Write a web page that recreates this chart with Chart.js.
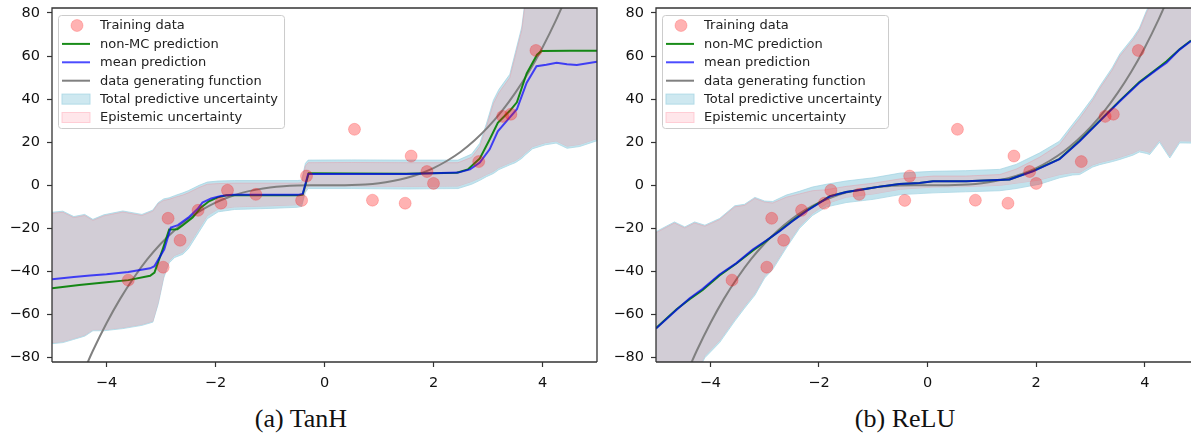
<!DOCTYPE html>
<html>
<head>
<meta charset="utf-8">
<script src="https://cdn.jsdelivr.net/npm/chart.js@4.4.1/dist/chart.umd.min.js"></script>
<style>
  body { margin: 0; background: #fff; width: 1191px; height: 433px; overflow: hidden; position: relative; }
  .plot { position: absolute; top: 0; height: 395px; }
  #plotA { left: 0; width: 610px; }
  #plotB { left: 600px; width: 591px; }
  .cap { position: absolute; top: 406px; line-height: 26px; font-family: "Liberation Serif", serif; font-size: 26px; color: #111; transform: translateX(-50%); white-space: nowrap; }
</style>
</head>
<body>
<div class="plot" id="plotA"><canvas id="chartA"></canvas></div>
<div class="plot" id="plotB"><canvas id="chartB"></canvas></div>
<div class="cap" style="left:301px">(a) TanH</div>
<div class="cap" style="left:905px">(b) ReLU</div>
<script>
// ticks
const xTicks = [-4, -2, 0, 2, 4];
const yTicks = [-80, -60, -40, -20, 0, 20, 40, 60, 80];

const legendLabels = ['Training data', 'non-MC prediction', 'mean prediction', 'data generating function',
  'Total predictive uncertainty', 'Epistemic uncertainty'];

// training data (same in both panels)
const trainX = [-3.60, -2.96, -2.87, -2.65, -2.32, -1.90, -1.78, -1.26, -0.42, -0.33, 0.55, 0.88, 1.48, 1.59, 1.88, 2.00, 2.83, 3.27, 3.42, 3.88];
const trainY = [-44, -38, -15.3, -25.5, -11.6, -8.3, -2.3, -4.2, -7, 4.3, 26, -6.9, -8.3, 13.6, 6.4, 0.9, 11, 32, 33, 62.6];

// data generating function
const genX = [-4.5, -4.25, -4, -3.75, -3.5, -3.25, -3, -2.75, -2.5, -2.25, -2, -1.75, -1.5, -1.25, -1, -0.75, -0.5, -0.25, 0,
  0.25, 0.5, 0.75, 1, 1.25, 1.5, 1.75, 2, 2.25, 2.5, 2.75, 3, 3.25, 3.5, 3.75, 4, 4.25, 4.5];
const genY = [-91.1, -76.8, -64, -52.7, -42.9, -34.3, -27, -20.8, -15.6, -11.4, -8, -5.4, -3.4, -2.0, -1, -0.4, -0.1, 0, 0,
  0, 0.1, 0.4, 1, 2.0, 3.4, 5.4, 8, 11.4, 15.6, 20.8, 27, 34.3, 42.9, 52.7, 64, 76.8, 91.1];

// (a) TanH
const meanAX = [-5, -4.6, -4.3, -4.0, -3.6, -3.2, -3.12, -2.94, -2.82, -2.69, -2.5, -2.33, -2.24, -2.08, -1.9, -1.7, -1.0, -0.47, -0.4, -0.3,
  0.5, 1.5, 2.45, 2.67, 2.85, 3.03, 3.18, 3.4, 3.53, 3.71, 3.89, 4.07, 4.26, 4.45, 4.63, 5];
const meanAY = [-43.6, -42.6, -41.8, -41.3, -40.2, -38.5, -37.5, -29.7, -19.6, -18.5, -15, -11, -8, -6.1, -5, -4.4, -4.4, -4.4, -4, 5.3,
  5.3, 5.2, 5.9, 7.4, 10.6, 16.7, 25.1, 31.5, 35.3, 47.6, 55.3, 56, 56.9, 56.2, 55.8, 57.4];
const nonMcAX = [-5, -4.5, -4, -3.6, -3.2, -3.12, -2.96, -2.85, -2.7, -2.6, -2.42, -2.27, -2.12, -1.96, -1.8, -1.0, -0.47, -0.4, -0.29,
  0.5, 1.5, 2.43, 2.63, 2.85, 3.03, 3.18, 3.4, 3.53, 3.71, 3.9, 3.98, 4.5, 5];
const nonMcAY = [-47.8, -46.3, -45, -44, -42, -40.5, -29, -20.5, -20.4, -18.5, -15, -10.4, -7.4, -5.6, -4.6, -4.6, -4.6, -4.3, 5.6,
  5.5, 5.4, 5.8, 7.4, 12.5, 21.3, 29, 34.6, 38.5, 52, 60.7, 62.3, 62.5, 62.5];
const bandAX = [-5, -4.8, -4.6, -4.4, -4.25, -4.05, -3.7, -3.35, -3.15, -3.05, -2.95, -2.85, -2.75, -2.6, -2.5, -2.3, -2.15, -1.95, -1.65, -1.0,
  -0.5, -0.42, -0.35, -0.3, 0.5, 1.5, 2.45, 2.7, 2.85, 2.97, 3.1, 3.2, 3.4, 3.5, 3.62, 3.68, 3.82, 4.05, 4.25, 4.45, 4.68, 5.0];
const epiUpA = [-13, -12.5, -15, -14, -16.3, -14.2, -12.4, -14, -12, -8.5, -7, -6.5, -5.6, -4.5, -3.5, -1, 0.5, 0.8, 1, 1,
  1, 1.2, 9, 10.5, 10.6, 10.5, 10.5, 13, 18, 27, 38, 43, 50, 60, 72, 84, 110, 120, 125, 128, 130, 130];
const epiLoA = [-73, -72.5, -71, -69.5, -67, -67, -66, -64.5, -63, -54, -42, -35, -32.5, -31, -28, -20, -14, -11, -10, -9.5,
  -9, -8.5, -2, -0.3, -0.3, -0.5, -0.3, 1.8, 3.5, 5, 6.5, 8.3, 10.5, 11.5, 13.5, 15, 18, 19.8, 20.6, 18.2, 19, 21.7];
const totUpA = [-12.5, -12, -14.5, -13.5, -15.8, -13.7, -11.9, -13.5, -11.5, -8, -6.3, -5.8, -4.8, -3.5, -2.5, 0, 1.5, 2, 2.2, 2.2,
  2.2, 2.4, 10.2, 11.7, 11.8, 11.7, 11.7, 14.5, 19.5, 28.5, 39.5, 44.5, 51.5, 61.5, 73.5, 85.5, 111, 121, 126, 129, 131, 131];
const totLoA = [-73.5, -73, -71.5, -70, -67.5, -67.5, -66.5, -65, -63.5, -55, -43, -36, -33.5, -32, -29.5, -21.5, -15.5, -12.3, -11.2, -10.7,
  -10.2, -9.8, -3.2, -1.5, -1.5, -1.7, -1.5, 0.5, 2.3, 4, 5.5, 7.3, 9.5, 10.5, 12.5, 14, 17, 18.8, 19.6, 17.2, 18, 20.7];

// (b) ReLU
const meanBX = [-5, -4.62, -4.38, -4.14, -3.83, -3.52, -3.22, -2.97, -2.73, -2.49, -2.23, -1.99, -1.8, -1.5, -1.25, -0.88,
  -0.52, -0.15, 0.1, 0.71, 1.51, 1.94, 2.43, 2.8, 3.17, 3.54, 3.9, 4.27, 4.4, 4.64, 4.85];
const meanBY = [-66.5, -57.7, -52.4, -48, -41.4, -36.1, -29.8, -25.6, -21.4, -16.7, -12, -8.2, -5.1, -3.1, -2.2, -0.6,
  0.6, 1.1, 1.9, 1.9, 2.7, 6.5, 12.1, 20.5, 29.8, 39, 47.6, 54.6, 56.9, 63, 67];
const nonMcBY = [-66.3, -57.5, -52.8, -48.6, -41.8, -36.3, -30.3, -25.8, -21.2, -16.5, -11.8, -8, -5, -3.1, -2.2, -0.6,
  0.6, 1.1, 1.9, 1.9, 2.7, 6.6, 12.3, 20.7, 30, 39.3, 47.9, 55, 57.6, 63.2, 67.2];
const bandBX = [-5, -4.66, -4.47, -4.29, -4.1, -3.83, -3.55, -3.37, -3.18, -3.0, -2.85, -2.6, -2.36, -2.12, -1.86, -1.5, -1.0, -0.5, 0.1,
  0.7, 1.33, 1.63, 2.06, 2.43, 2.67, 2.8, 3.04, 3.17, 3.4, 3.54, 3.78, 3.9, 4.03, 4.09, 4.27, 4.46, 4.64, 4.85];
const epiUpB = [-22, -17.5, -19.8, -17.5, -19, -15.9, -10, -9.3, -6.1, -7.8, -8.2, -5.5, -4, -2.5, -2, -0.5, 1, 3, 4.3,
  4.3, 5, 7.5, 13, 19, 27, 31, 39.5, 45, 53.5, 60, 67.5, 72, 80, 83, 91, 99, 109, 119];
const epiLoB = [-115, -105, -97, -88, -79, -72, -62, -56, -50, -42, -38, -28, -19, -13, -8.5, -5.5, -4, -1.8, -0.8,
  -0.6, 0, 1, 2.5, 5, 6, 6, 9.5, 10.6, 12, 13, 15, 16.5, 15.8, 15.3, 21, 13.7, 20.7, 20.6];
const totUpB = [-21.5, -17, -19.3, -17, -18.5, -15.4, -9.5, -8.8, -5.6, -7.3, -7.5, -4.5, -2.8, -0.8, 0.5, 2, 3.5, 5.7, 6.5,
  6.8, 7.4, 9.7, 15, 20.5, 28.3, 32.5, 40.6, 46, 54.6, 61, 68.5, 73, 81, 84, 92, 100, 110, 120];
const totLoB = [-116, -106, -98, -89, -80, -73, -63, -57, -51, -43, -39, -29, -20, -14, -10, -8, -6.5, -4.3, -3.5,
  -3, -2.5, -1.5, 0.5, 3.5, 4.8, 5, 8.5, 9.6, 11, 12, 14, 15.5, 14.8, 14.3, 20, 12.7, 19.7, 19.6];

const RED = 'rgba(255,0,0,0.3)', RED_EDGE = 'rgba(255,0,0,0.2)';
const BLUE = 'rgba(0,0,255,0.7)', GREEN = 'rgba(0,128,0,0.9)', GRAY = '#808080';
const EPI = '#d2cdd6', EPI_EDGE = 'rgba(225,165,178,0.7)';
const TOT = 'rgba(173,216,230,0.75)', TOT_EDGE = 'rgba(160,210,226,0.9)';

function pts(xs, ys) {
  return xs.map((x, i) => ({ x: x, y: ys[i] }));
}

function minus(v) {
  return String(v).replace('-', '\u2212');
}

// spines + legend box (matplotlib style)
const frame = {
  id: 'frame',
  afterDatasetsDraw(chart, args, opts) {
    const c = chart.ctx, a = chart.chartArea;
    c.save();
    c.strokeStyle = '#333';
    c.lineWidth = 1.3;
    c.beginPath();
    c.moveTo(a.left, a.bottom); c.lineTo(a.left, a.top); c.lineTo(a.right, a.top);
    if (opts.right) c.lineTo(a.right, a.bottom);
    c.moveTo(a.left, a.bottom); c.lineTo(a.right, a.bottom);
    c.stroke();

    c.font = '13px "DejaVu Sans"';
    const tw = Math.max(...legendLabels.map(t => c.measureText(t).width));
    const lx = a.left + 6, ly = 15, lw = 42 + tw + 6, lh = 113;
    c.beginPath();
    c.roundRect(lx + 0.5, ly + 0.5, lw, lh, 3);
    c.fillStyle = 'rgba(255,255,255,0.8)';
    c.fill();
    c.strokeStyle = '#cccccc';
    c.lineWidth = 1;
    c.stroke();

    legendLabels.forEach((t, i) => {
      const y = ly + 10.5 + i * 18.4;
      if (i === 0) {
        c.beginPath();
        c.arc(lx + 19, y, 6, 0, Math.PI * 2);
        c.fillStyle = RED; c.fill();
        c.strokeStyle = RED_EDGE; c.stroke();
      } else if (i <= 3) {
        c.beginPath();
        c.moveTo(lx + 4, y); c.lineTo(lx + 32, y);
        c.strokeStyle = [GREEN, BLUE, GRAY][i - 1];
        c.lineWidth = 2;
        c.stroke();
      } else {
        c.fillStyle = i === 4 ? 'rgba(173,216,230,0.6)' : 'rgba(255,192,203,0.4)';
        c.strokeStyle = i === 4 ? 'rgba(173,216,230,0.9)' : 'rgba(255,182,193,0.6)';
        c.lineWidth = 1;
        c.fillRect(lx + 4, y - 5, 28, 10);
        c.strokeRect(lx + 4, y - 5, 28, 10);
      }
      c.fillStyle = '#222';
      c.textBaseline = 'middle';
      c.fillText(t, lx + 42, y + 0.5);
    });
    c.restore();
  }
};

function makeChart(id, d) {
  const line = { pointRadius: 0, pointHoverRadius: 0, borderWidth: 2, fill: false };
  return new Chart(document.getElementById(id), {
    type: 'line',
    data: {
      datasets: [
        { data: pts(trainX, trainY), showLine: false, pointRadius: 6, pointHoverRadius: 6,
          pointBackgroundColor: RED, pointBorderColor: RED_EDGE, pointBorderWidth: 1, order: 0 },
        Object.assign({ data: pts(d.meanX, d.meanY), borderColor: BLUE, order: 1 }, line),
        Object.assign({ data: pts(d.nonMcX, d.nonMcY), borderColor: GREEN, order: 2 }, line),
        Object.assign({ data: pts(genX, genY), borderColor: GRAY, order: 3 }, line, { cubicInterpolationMode: 'monotone' }),
        Object.assign({ data: pts(d.bandX, d.epiUp), borderColor: EPI_EDGE, order: 4 }, line, { borderWidth: 0.8, fill: '+1', backgroundColor: EPI }),
        Object.assign({ data: pts(d.bandX, d.epiLo), borderColor: EPI_EDGE, order: 4 }, line, { borderWidth: 0.8 }),
        Object.assign({ data: pts(d.bandX, d.totUp), borderColor: TOT_EDGE, order: 5 }, line, { borderWidth: 0.8, fill: '+1', backgroundColor: TOT }),
        Object.assign({ data: pts(d.bandX, d.totLo), borderColor: TOT_EDGE, order: 5 }, line, { borderWidth: 0.8 })
      ]
    },
    options: {
      responsive: true,
      maintainAspectRatio: false,
      animation: false,
      events: [],
      layout: { autoPadding: false, padding: { top: 8, right: d.padRight, left: 0, bottom: 0 } },
      plugins: {
        legend: { display: false },
        tooltip: { enabled: false },
        frame: { right: d.rightSpine }
      },
      scales: {
        x: {
          type: 'linear',
          min: -5,
          max: d.xMax,
          afterBuildTicks: s => { s.ticks = xTicks.map(v => ({ value: v })); },
          afterFit: s => { s.height = 33; s.paddingLeft = 0; s.paddingRight = 0; },
          border: { display: false },
          grid: { drawOnChartArea: false, drawTicks: true, tickLength: 5, tickColor: '#333', tickWidth: 1.2 },
          ticks: { padding: 8, color: '#111', maxRotation: 0, autoSkip: false,
            font: { family: 'DejaVu Sans', size: 14.5 }, callback: v => minus(v) }
        },
        y: {
          type: 'linear',
          min: -82,
          max: 82.3,
          afterBuildTicks: s => { s.ticks = yTicks.map(v => ({ value: v })); },
          afterFit: s => { s.width = d.yWidth; s.paddingTop = 0; s.paddingBottom = 0; },
          border: { display: false },
          grid: { drawOnChartArea: false, drawTicks: true, tickLength: 5, tickColor: '#333', tickWidth: 1.2 },
          ticks: { padding: 7, color: '#111', autoSkip: false,
            font: { family: 'DejaVu Sans', size: 14.5 }, callback: v => minus(v) }
        }
      }
    },
    plugins: [frame]
  });
}

makeChart('chartA', {
  meanX: meanAX, meanY: meanAY, nonMcX: nonMcAX, nonMcY: nonMcAY,
  bandX: bandAX, epiUp: epiUpA, epiLo: epiLoA, totUp: totUpA, totLo: totLoA,
  xMax: 5, yWidth: 52, padRight: 13, rightSpine: true
});

makeChart('chartB', {
  meanX: meanBX, meanY: meanBY, nonMcX: meanBX, nonMcY: nonMcBY,
  bandX: bandBX, epiUp: epiUpB, epiLo: epiLoB, totUp: totUpB, totLo: totLoB,
  xMax: 4.85, yWidth: 56, padRight: 0, rightSpine: false
});
</script>
</body>
</html>
